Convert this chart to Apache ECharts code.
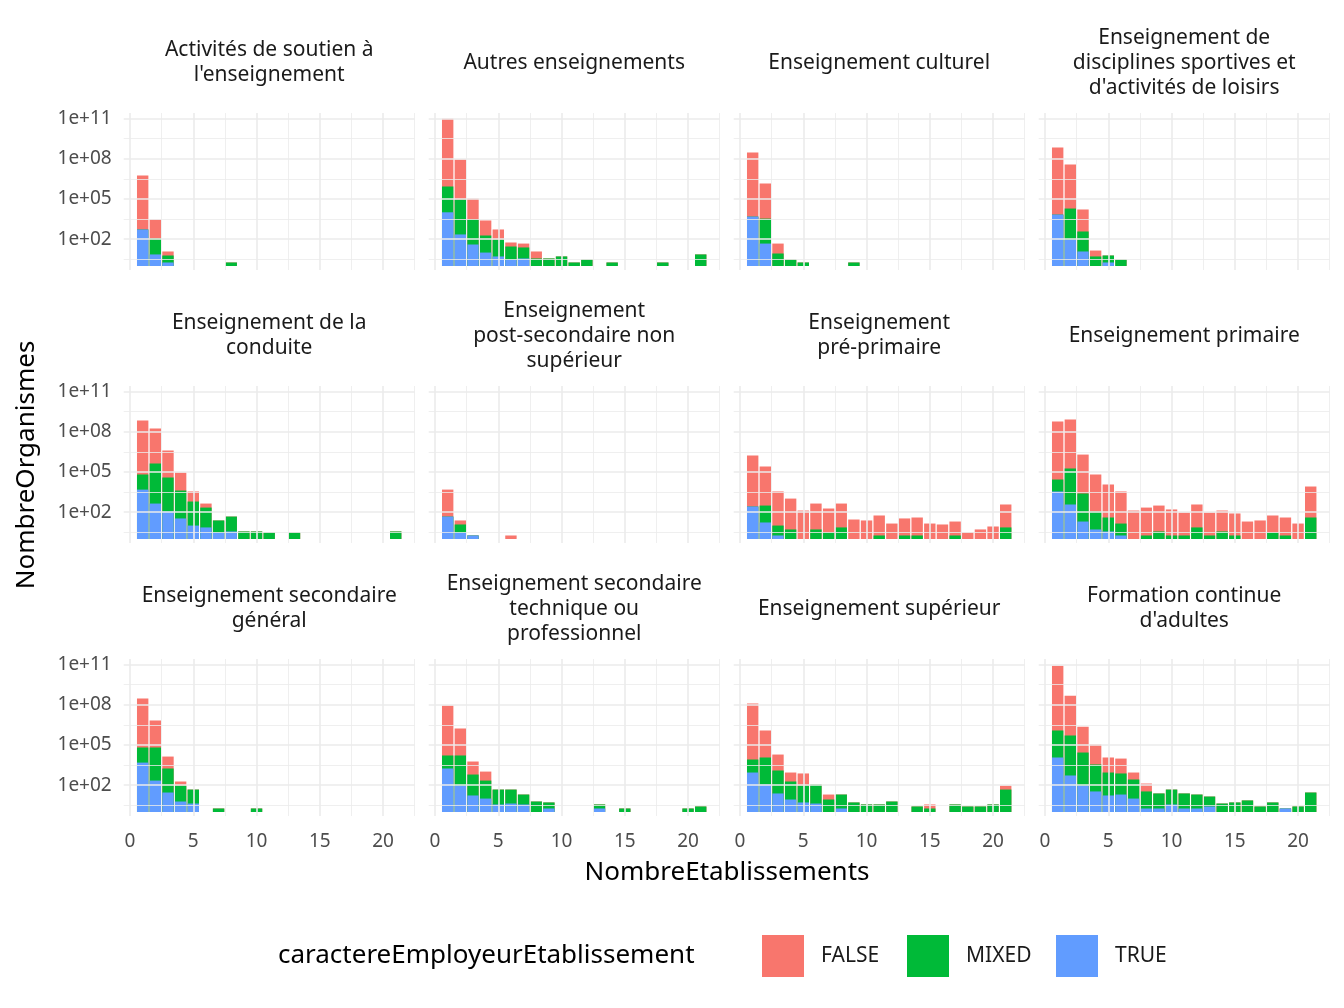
<!DOCTYPE html>
<html>
<head>
<meta charset="utf-8">
<script src="https://cdn.jsdelivr.net/npm/echarts@6/dist/echarts.min.js"></script>
<style>html,body{margin:0;background:#fff}#chart{width:1344px;height:1008px}</style>
</head>
<body>
<div id="chart"></div>
<script>
// each bar: [NombreEtablissements, top of TRUE, top of MIXED, top of FALSE] in log10 units
const panelTitles = [
    "Activités de soutien à\nl'enseignement", 'Autres enseignements', 'Enseignement culturel',
    'Enseignement de\ndisciplines sportives et\nd\'activités de loisirs',
    'Enseignement de la\nconduite', 'Enseignement\npost-secondaire non\nsupérieur',
    'Enseignement\npré-primaire', 'Enseignement primaire',
    'Enseignement secondaire\ngénéral', 'Enseignement secondaire\ntechnique ou\nprofessionnel',
    'Enseignement supérieur', 'Formation continue\nd\'adultes'
];
const soutien = [[1,2.72,2.72,6.74],[2,0.86,2.05,3.46],[3,0.26,0.78,1.08],[8,0,0.26,0.26]];
const autres = [[1,4.0,5.92,10.98],[2,2.35,4.95,7.93],[3,1.6,3.47,5.02],[4,1.0,2.27,3.39],[5,0.71,1.97,2.72],
    [6,0.48,1.45,1.75],[7,0.56,1.38,1.67],[8,0,0.56,1.08],[9,0,0.56,0.56],[10,0,0.71,0.71],[11,0,0.26,0.26],
    [12,0,0.48,0.48],[14,0,0.26,0.26],[18,0,0.26,0.26],[21,0,0.86,0.86]];
const culturel = [[1,3.68,3.68,8.45],[2,1.67,3.53,6.14],[3,0,0.93,1.67],[4,0,0.48,0.48],[5,0,0.26,0.26],[9,0,0.26,0.26]];
const sportives = [[1,3.83,3.83,8.82],[2,1.97,4.28,7.56],[3,1.08,2.57,4.21],[4,0,0.71,1.15],[5,0.26,0.78,0.78],[6,0,0.48,0.48]];
const conduite = [[1,3.68,4.8,8.82],[2,2.64,5.62,8.23],[3,2.05,4.58,6.59],[4,1.53,3.61,4.95],[5,1.0,2.79,3.54],
    [6,0.86,2.34,2.64],[7,0.48,1.38,1.38],[8,0.56,1.67,1.67],[9,0,0.56,0.56],[10,0,0.56,0.56],[11,0,0.48,0.48],
    [13,0,0.48,0.48],[21,0,0.56,0.56]];
const postSecondaire = [[1,1.67,1.67,3.68],[2,0.48,1.08,1.38],[3,0.26,0.26,0.26],[6,0,0,0.26]];
const prePrimaire = [[1,2.42,2.42,6.22],[2,1.23,2.49,5.4],[3,0.26,1.0,3.54],[4,0,0.71,3.01],[5,0,0,2.12],
    [6,0,0.71,2.64],[7,0,0.48,2.27],[8,0,0.86,2.64],[9,0,0,1.45],[10,0,0,1.38],[11,0,0.26,1.75],[12,0,0,1.15],
    [13,0,0.26,1.53],[14,0,0.26,1.6],[15,0,0,1.15],[16,0,0,1.08],[17,0,0.26,1.3],[18,0,0,0.48],[19,0,0,0.71],
    [20,0,0,0.93],[21,0,0.86,2.57]];
const primaire = [[1,3.54,4.43,8.75],[2,2.57,5.25,8.9],[3,1.3,3.39,6.29],[4,0.71,2.05,4.8],[5,0.56,1.6,4.06],
    [6,0.26,1.15,3.54],[7,0,0,2.12],[8,0,0.26,2.34],[9,0,0.56,2.49],[10,0,0.26,2.2],[11,0,0.26,1.97],
    [12,0,0.86,2.57],[13,0,0.26,1.97],[14,0,0.56,2.12],[15,0,0.26,1.9],[16,0,0,1.3],[17,0,0,1.38],
    [18,0,0.48,1.75],[19,0,0.26,1.6],[20,0,0,1.15],[21,0,1.6,3.91]];
const secGeneral = [[1,3.68,4.8,8.45],[2,2.34,4.8,6.81],[3,1.45,3.24,4.13],[4,0.78,1.97,2.27],[5,0.63,1.67,1.67],
    [7,0,0.26,0.26],[10,0,0.26,0.26]];
const secTechnique = [[1,3.24,4.21,7.93],[2,1.97,4.21,6.22],[3,1.23,2.79,3.76],[4,1.0,2.34,3.01],[5,0.56,1.67,1.67],
    [6,0.63,1.67,1.67],[7,0.56,1.3,1.3],[8,0,0.78,0.78],[9,0.26,0.71,0.71],[13,0.26,0.56,0.56],[15,0,0.26,0.26],
    [20,0,0.26,0.26],[21,0,0.41,0.41]];
const superieur = [[1,2.94,3.91,8.08],[2,2.05,4.06,6.07],[3,1.38,3.09,4.28],[4,0.93,2.27,2.94],[5,0.71,1.97,2.87],
    [6,0.63,2.05,2.05],[7,0,0.93,1.3],[8,0.26,1.3,1.3],[9,0,0.71,0.71],[10,0,0.56,0.56],[11,0,0.56,0.56],
    [12,0,0.78,0.78],[14,0,0.41,0.41],[15,0,0.26,0.56],[17,0,0.56,0.56],[18,0,0.41,0.41],[19,0,0.41,0.41],
    [20,0,0.56,0.56],[21,0,1.67,1.97]];
const formation = [[1,4.06,6.07,10.9],[2,2.72,5.7,8.67],[3,1.97,4.43,6.36],[4,1.53,3.54,5.02],[5,1.23,2.94,4.06],
    [6,1.3,2.87,3.98],[7,1.0,2.42,2.94],[8,0.26,1.53,2.12],[9,0.26,1.38,1.38],[10,0.56,1.67,1.67],[11,0.26,1.38,1.38],
    [12,0.26,1.3,1.3],[13,0.41,1.15,1.15],[14,0,0.63,0.63],[15,0,0.71,0.71],[16,0,0.86,0.86],[17,0,0.41,0.41],
    [18,0,0.71,0.71],[19,0.26,0.26,0.26],[20,0,0.41,0.41],[21,0,1.45,1.45]];
const panelData = [soutien, autres, culturel, sportives, conduite, postSecondaire, prePrimaire, primaire,
    secGeneral, secTechnique, superieur, formation];
const yTicks = [2, 5, 8, 11];
const xTicks = [0, 5, 10, 15, 20];
const colors = { 'FALSE': '#F8766D', 'MIXED': '#00BA38', 'TRUE': '#619CFF' };

const font = 'Noto Sans';
const colLeft = [123.7, 428.7, 733.7, 1038.7];
const rowTop = [113, 386, 659];
const titleY = [63, 336, 609];
const gw = 291, gh = 157;

let grids = [], xAxes = [], yAxes = [], series = [], graphics = [];

panelData.forEach((rows, i) => {
    let c = i % 4, r = Math.floor(i / 4);
    grids.push({ left: colLeft[c], top: rowTop[r], width: gw, height: gh });
    xAxes.push({
        gridIndex: i, type: 'value', min: -0.5, max: 22.5,
        axisLine: { show: false }, axisTick: { show: false }, splitLine: { show: false },
        axisLabel: { show: r === 2, customValues: xTicks, color: '#4d4d4d', fontSize: 19, fontFamily: font, margin: 16 }
    });
    yAxes.push({
        gridIndex: i, type: 'value', min: -0.3, max: 11.4,
        axisLine: { show: false }, axisTick: { show: false }, splitLine: { show: false },
        axisLabel: { show: c === 0, customValues: yTicks, color: '#4d4d4d', fontSize: 19, fontFamily: font, margin: 12,
            formatter: v => '1e+' + String(v).padStart(2, '0') }
    });

    // panel grid lines
    let lines = [];
    [0.5, 3.5, 6.5, 9.5].forEach(v => lines.push({ yAxis: v, lineStyle: { width: 0.8 } }));
    [2, 5, 8, 11].forEach(v => lines.push({ yAxis: v, lineStyle: { width: 1.6 } }));
    [2.5, 7.5, 12.5, 17.5, 22.5].forEach(v => lines.push({ xAxis: v, lineStyle: { width: 0.8 } }));
    [0, 5, 10, 15, 20].forEach(v => lines.push({ xAxis: v, lineStyle: { width: 1.6 } }));
    series.push({
        type: 'scatter', xAxisIndex: i, yAxisIndex: i, data: [], symbolSize: 0, z: 1, silent: true,
        markLine: { silent: true, symbol: 'none', label: { show: false }, animation: false,
            lineStyle: { color: '#ebebeb', type: 'solid' }, data: lines }
    });

    // stacked look: full-height FALSE bar, MIXED and TRUE drawn over it from the baseline
    [['FALSE', 3], ['MIXED', 2], ['TRUE', 1]].forEach(([g, k]) => {
        series.push({
            name: g, type: 'bar', xAxisIndex: i, yAxisIndex: i, z: 2, barGap: '-100%',
            barWidth: 11.4, itemStyle: { color: colors[g] }, data: rows.map(d => [d[0], d[k]]), animation: false
        });
    });

    graphics.push({
        type: 'text', x: colLeft[c] + gw / 2, y: titleY[r],
        style: { text: panelTitles[i], fontSize: 21, fontFamily: font, fill: '#1a1a1a',
            align: 'center', verticalAlign: 'middle', lineHeight: 25 }
    });
});

graphics.push({ type: 'text', x: 727, y: 873, style: { text: 'NombreEtablissements', fontSize: 26, fontFamily: font,
    fill: '#000', align: 'center', verticalAlign: 'middle' } });
graphics.push({ type: 'text', x: 27, y: 465, rotation: Math.PI / 2, style: { text: 'NombreOrganismes', fontSize: 26,
    fontFamily: font, fill: '#000', align: 'center', verticalAlign: 'middle' } });
graphics.push({ type: 'text', x: 278, y: 956, style: { text: 'caractereEmployeurEtablissement', fontSize: 26,
    fontFamily: font, fill: '#000', align: 'left', verticalAlign: 'middle' } });
[[762, 'FALSE'], [907, 'MIXED'], [1056, 'TRUE']].forEach(([x, g]) => {
    graphics.push({ type: 'rect', shape: { x: x, y: 935, width: 42, height: 42 }, style: { fill: colors[g] } });
    graphics.push({ type: 'text', x: x + 59, y: 956, style: { text: g, fontSize: 21, fontFamily: font,
        fill: '#1a1a1a', align: 'left', verticalAlign: 'middle' } });
});

let chart = echarts.init(document.getElementById('chart'));
chart.setOption({
    backgroundColor: '#fff',
    animation: false,
    grid: grids,
    xAxis: xAxes,
    yAxis: yAxes,
    series: series,
    graphic: graphics
});
</script>
</body>
</html>
